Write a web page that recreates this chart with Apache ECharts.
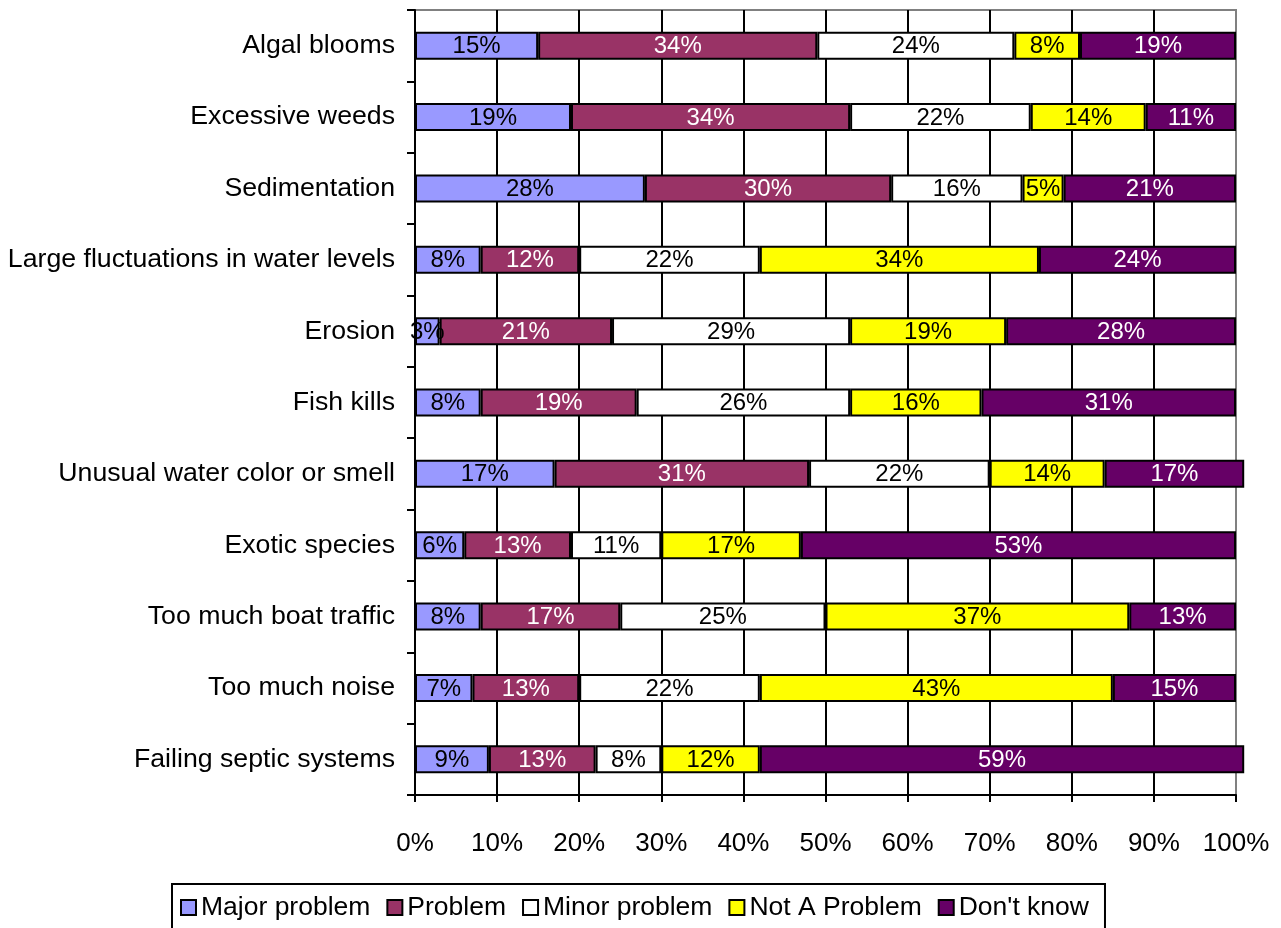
<!DOCTYPE html>
<html>
<head>
<meta charset="utf-8">
<script src="https://cdn.jsdelivr.net/npm/echarts@6/dist/echarts.min.js"></script>
<style>
html,body{margin:0;padding:0;background:#fff;}
#chart{width:1281px;height:928px;}
</style>
</head>
<body>
<div id="chart"></div>
<script>
const categories = [
  "Algal blooms",
  "Excessive weeds",
  "Sedimentation",
  "Large fluctuations in water levels",
  "Erosion",
  "Fish kills",
  "Unusual water color or smell",
  "Exotic species",
  "Too much boat traffic",
  "Too much noise",
  "Failing septic systems"
];
const seriesNames = ["Major problem", "Problem", "Minor problem", "Not A Problem", "Don't know"];
const majorProblem = [15, 19, 28, 8, 3, 8, 17, 6, 8, 7, 9];
const problem      = [34, 34, 30, 12, 21, 19, 31, 13, 17, 13, 13];
const minorProblem = [24, 22, 16, 22, 29, 26, 22, 11, 25, 22, 8];
const notAProblem  = [8, 14, 5, 34, 19, 16, 14, 17, 37, 43, 12];
const dontKnow     = [19, 11, 21, 24, 28, 31, 17, 53, 13, 15, 59];
const xTicks = [0, 10, 20, 30, 40, 50, 60, 70, 80, 90, 100];

const seriesValues = [majorProblem, problem, minorProblem, notAProblem, dontKnow];
const colors = ["#9999FF", "#993366", "#FFFFFF", "#FFFF00", "#660066"];
const labelColors = ["#000", "#fff", "#000", "#000", "#fff"];
const FONT = "'Liberation Sans', Arial, sans-serif";

const chart = echarts.init(document.getElementById('chart'));
const option = {
  animation: false,
  backgroundColor: '#fff',
  grid: {
    left: 415, right: 45, top: 10, bottom: 133,
    show: true, borderColor: '#808080', borderWidth: 2, backgroundColor: 'transparent'
  },
  legend: {
    data: seriesNames,
    left: 172, top: 884,
    orient: 'horizontal',
    icon: 'rect',
    itemWidth: 15, itemHeight: 15, itemGap: 16,
    padding: [10, 16, 24, 8],
    borderColor: '#000', borderWidth: 2,
    backgroundColor: '#fff',
    textStyle: { fontFamily: FONT, fontSize: 26.5, color: '#000' },
    itemStyle: { borderColor: '#000', borderWidth: 2 }
  },
  xAxis: {
    type: 'value',
    min: xTicks[0], max: xTicks[xTicks.length - 1], interval: 10,
    axisLine: { show: true, lineStyle: { color: '#000', width: 2 } },
    axisTick: { show: true, length: 7, lineStyle: { color: '#000', width: 2 } },
    axisLabel: { formatter: '{value}%', fontFamily: FONT, fontSize: 26, color: '#000', margin: 36 },
    splitLine: { show: true, lineStyle: { width: 2, color: ['#000','#000','#000','#000','#000','#000','#000','#000','#000','#000','#808080'] } }
  },
  yAxis: {
    type: 'category',
    data: categories,
    inverse: true,
    axisLine: { show: true, lineStyle: { color: '#000', width: 2 } },
    axisTick: { show: true, length: 8, lineStyle: { color: '#000', width: 2 } },
    axisLabel: { fontFamily: FONT, fontSize: 26.7, color: '#000', margin: 20 },
    splitLine: { show: false }
  },
  series: seriesNames.map((name, i) => ({
    name: name,
    type: 'bar',
    stack: 'total',
    clip: false,
    barWidth: 28,
    data: seriesValues[i],
    itemStyle: { color: colors[i], borderColor: '#000', borderWidth: 2 },
    label: {
      show: true, position: 'inside', formatter: '{c}%',
      fontFamily: FONT, fontSize: 24, color: labelColors[i],
      textBorderWidth: 0, offset: [0, 1]
    },
    emphasis: { disabled: true }
  }))
};
chart.setOption(option);
</script>
</body>
</html>
